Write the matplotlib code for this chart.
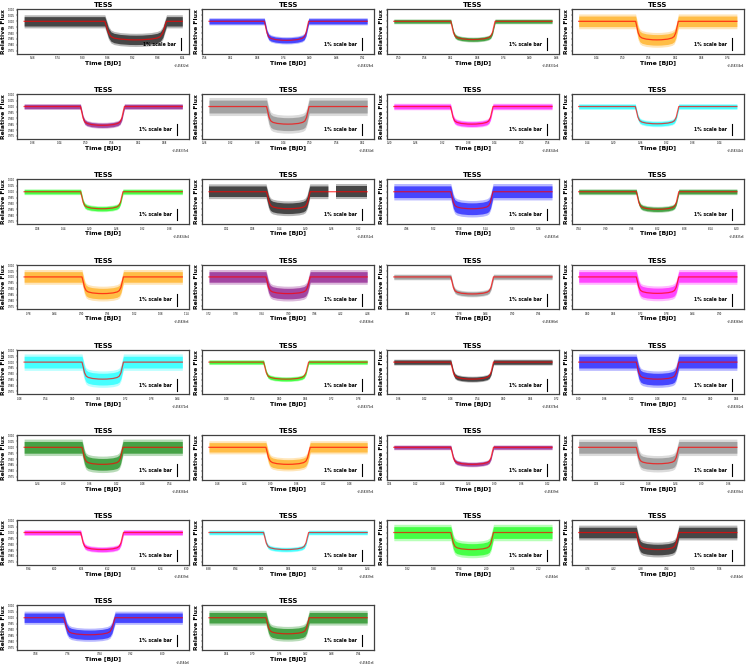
import numpy as np
import matplotlib
matplotlib.use('Agg')
import matplotlib.pyplot as plt
from matplotlib.transforms import blended_transform_factory

# ---------------- data (read / estimated from the reference) ----------------
colors = ['black', 'blue', 'green', 'orange', 'purple', 'gray', 'magenta', 'cyan', 'lime',
          'black', 'blue', 'green', 'orange', 'purple', 'gray', 'magenta', 'cyan', 'lime',
          'black', 'blue', 'green', 'orange', 'purple', 'gray', 'magenta', 'cyan', 'lime',
          'black', 'blue', 'green']

# observation window start (BJD) and length (days) for every panel
t_start = [2458325.66, 2458328.57, 2458331.49, 2458334.40, 2458337.36, 2458340.27,
           2458343.21, 2458346.12, 2458349.05, 2458351.98, 2458354.93, 2458357.84,
           2458360.77, 2458363.72, 2458366.63, 2458369.58, 2458372.49, 2458375.44,
           2458378.35, 2458381.30, 2458384.21, 2458387.16, 2458390.07, 2458393.02,
           2458395.93, 2458398.88, 2458401.79, 2458404.74, 2458407.65, 2458410.60]
t_span = [0.38, 0.36, 0.36, 0.36, 0.36, 0.36, 0.36, 0.36, 0.36, 0.36,
          0.36, 0.36, 0.36, 0.36, 0.36, 0.36, 0.36, 0.36, 0.36, 0.36,
          0.36, 0.36, 0.36, 0.36, 0.36, 0.36, 0.36, 0.36, 0.40, 0.36]

# first / last contact as fraction of the observation window
ingress = [0.51, 0.35, 0.36, 0.36, 0.356, 0.364, 0.358, 0.358, 0.357, 0.364,
           0.36, 0.364, 0.366, 0.36, 0.36, 0.364, 0.366, 0.345, 0.36, 0.364,
           0.366, 0.36, 0.36, 0.364, 0.357, 0.345, 0.36, 0.364, 0.25, 0.36]
egress = [0.90, 0.63, 0.64, 0.63, 0.634, 0.633, 0.627, 0.633, 0.625, 0.64,
          0.627, 0.633, 0.628, 0.64, 0.63, 0.633, 0.628, 0.63, 0.63, 0.633,
          0.625, 0.64, 0.63, 0.633, 0.628, 0.63, 0.63, 0.633, 0.575, 0.634]

# transit depth and scatter half-width, in percent
depth_pct = [1.58, 1.62, 1.55, 1.58, 1.60, 1.50, 1.50, 1.47, 1.45, 1.45,
             1.45, 1.50, 1.42, 1.42, 1.45, 1.40, 1.45, 1.45, 1.45, 1.45,
             1.45, 1.45, 1.45, 1.40, 1.45, 1.45, 1.45, 1.45, 1.45, 1.37]
noise_pct = [0.40, 0.22, 0.15, 0.45, 0.18, 0.55, 0.20, 0.18, 0.18, 0.45,
             0.50, 0.18, 0.45, 0.45, 0.18, 0.45, 0.50, 0.15, 0.18, 0.50,
             0.50, 0.40, 0.15, 0.50, 0.18, 0.15, 0.50, 0.45, 0.40, 0.45]

# data gap (fraction of window) -- only panel 10
gaps = {9: (0.755, 0.80)}

# limb-darkened transit profile: fraction of duration -> fraction of depth
prof_u = [0.0, 0.03, 0.06, 0.10, 0.15, 0.25, 0.40, 0.50, 0.60, 0.75, 0.85, 0.90, 0.94, 0.97, 1.0]
prof_d = [0.0, 0.30, 0.62, 0.82, 0.90, 0.96, 0.995, 1.0, 0.995, 0.96, 0.90, 0.82, 0.62, 0.30, 0.0]

y_ticks = [0.975, 0.980, 0.985, 0.990, 0.995, 1.000, 1.005, 1.010]
y_limits = (0.9725, 1.0105)
scale_bar = (0.9755, 0.9855)   # 1 % bar

title_text = 'TESS'
xlabel_text = 'Time [BJD]'
ylabel_text = 'Relative Flux'
bar_text = '1% scale bar'

# ---------------- figure ----------------
fig = plt.figure(figsize=(7.47, 6.64), dpi=100)
axes = fig.subplots(8, 4, sharey=True)
fig.subplots_adjust(left=17 / 747, right=744 / 747, top=1 - 9 / 664, bottom=1 - 650 / 664,
                    wspace=0.072, hspace=0.91)

for k, ax in enumerate(axes.flat):
    if k >= len(colors):
        ax.remove()
        continue
    c = colors[k]
    t0 = t_start[k]
    sp = t_span[k]
    d = depth_pct[k] / 100.0
    n = noise_pct[k] / 100.0

    ph = [0.0] + [ingress[k] + u * (egress[k] - ingress[k]) for u in prof_u] + [1.0]
    fl = [1.0] + [1.0 - d * v for v in prof_d] + [1.0]
    ph = np.array(ph)
    fl = np.array(fl)
    where = np.ones_like(ph, dtype=bool)
    if k in gaps:
        a, b = gaps[k]
        ph = np.concatenate([ph[:-1], [a, 0.5 * (a + b), b], ph[-1:]])
        fl = np.concatenate([fl[:-1], [1.0, 1.0, 1.0], fl[-1:]])
        where = np.ones_like(ph, dtype=bool)
        where[-3] = False
    t = t0 + ph * sp

    ax.fill_between(t, fl - 1.4 * n, fl + 1.4 * n, where=where, color=c, alpha=0.28, lw=0)
    ax.fill_between(t, fl - n, fl + n, where=where, color=c, alpha=0.62, lw=0)
    ax.plot(t, fl, color='red', lw=0.9, alpha=0.7)

    ax.set_xlim(t0 - 0.045 * sp, t0 + 1.045 * sp)
    ax.set_ylim(*y_limits)
    ax.set_yticks(y_ticks)
    ax.yaxis.set_major_formatter(matplotlib.ticker.FormatStrFormatter('%.3f'))
    ax.xaxis.set_major_locator(matplotlib.ticker.MaxNLocator(7))

    trans = blended_transform_factory(ax.transAxes, ax.transData)
    bx = 0.95 if k == 0 else 0.93
    ax.plot([bx, bx], list(scale_bar), color='black', lw=0.8, transform=trans)
    ax.text(bx - 0.03, 0.5 * (scale_bar[0] + scale_bar[1]), bar_text, transform=trans,
            ha='right', va='center', fontsize=3.3, fontweight='bold')

    ax.set_title(title_text, fontsize=5, fontweight='bold', pad=1.5)
    ax.set_xlabel(xlabel_text, fontsize=4.4, fontweight='bold', labelpad=0.5)
    ax.set_ylabel(ylabel_text, fontsize=4.4, fontweight='bold', labelpad=0.8)
    ax.tick_params(labelsize=1.8, length=1, width=0.3, pad=0.8)
    ax.xaxis.get_offset_text().set_fontsize(1.8)
    for s in ax.spines.values():
        s.set_color('#404040')
        s.set_linewidth(0.9)

fig.savefig('out.png', dpi=100)
